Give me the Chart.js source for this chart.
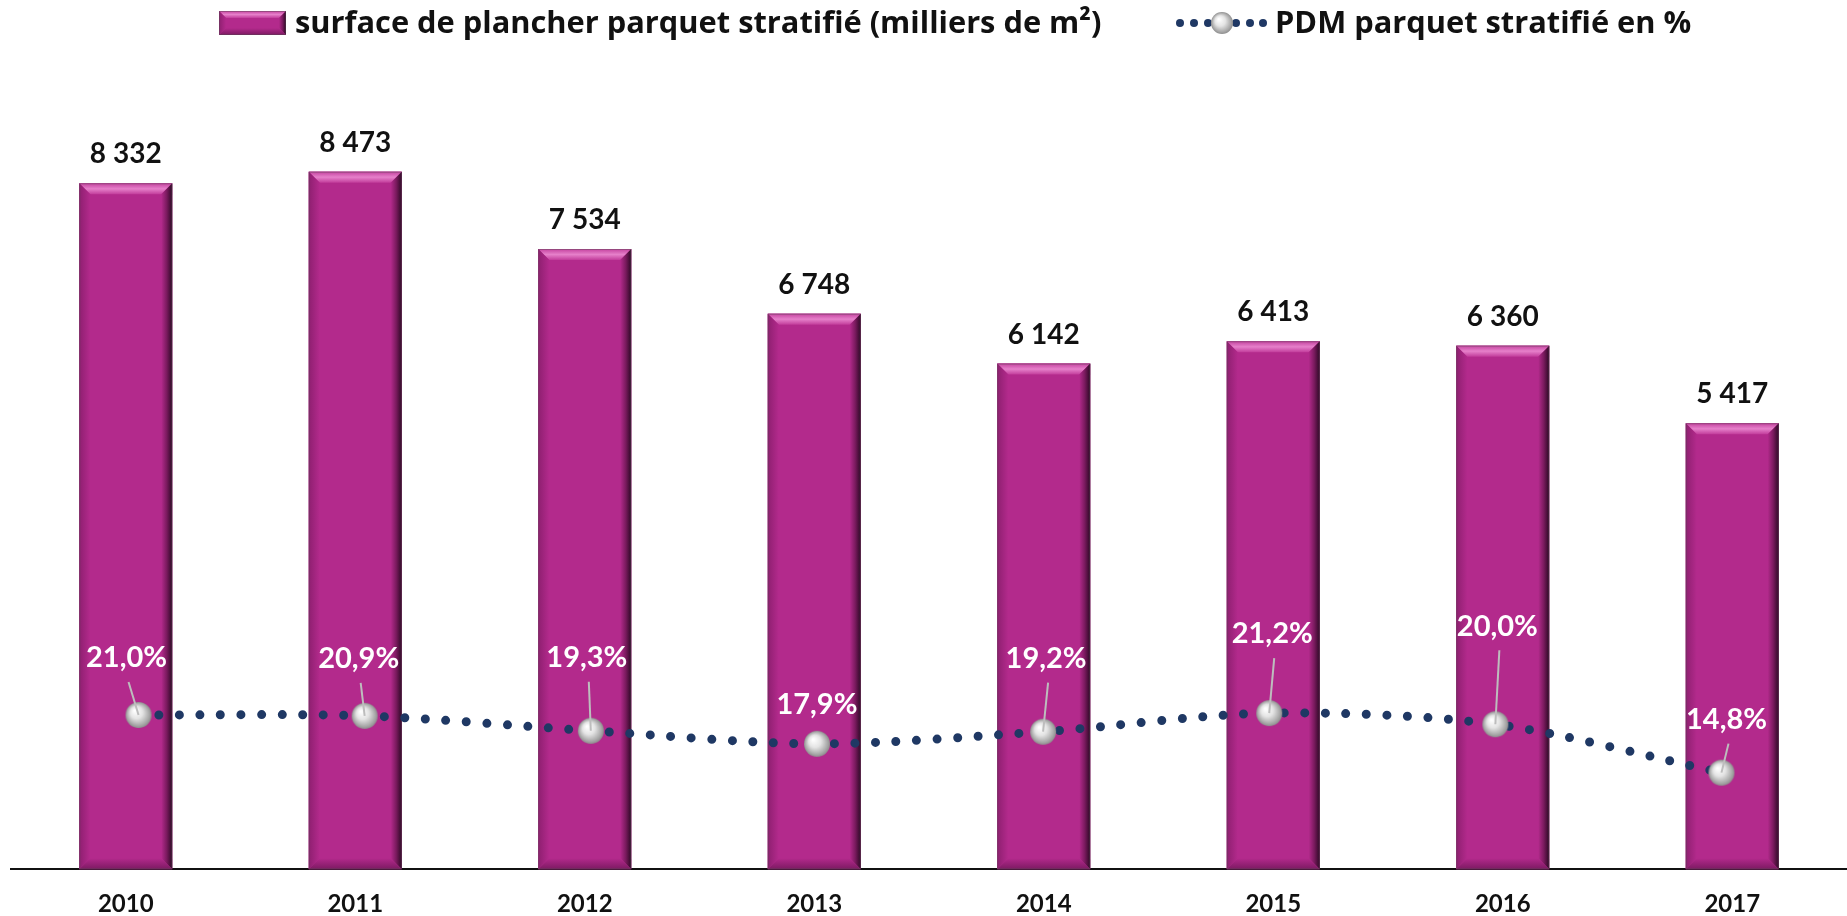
<!DOCTYPE html>
<html>
<head>
<meta charset="utf-8">
<script src="https://cdn.jsdelivr.net/npm/chart.js@4.4.0/dist/chart.umd.min.js"></script>
<style>
  html, body { margin: 0; padding: 0; background: #fff; }
  canvas { display: block; }
</style>
</head>
<body>
<canvas id="myChart" width="1847" height="916"></canvas>
<script>
var years = ['2010', '2011', '2012', '2013', '2014', '2015', '2016', '2017'];
var surface = [8332, 8473, 7534, 6748, 6142, 6413, 6360, 5417];
var pdm = [21.0, 20.9, 19.3, 17.9, 19.2, 21.2, 20.0, 14.8];

var barLabel = 'surface de plancher parquet stratifié (milliers de m²)';
var lineLabel = 'PDM parquet stratifié en %';

// placement of the % labels (Excel had them moved by hand)
var pctLift = [57, 57, 73, 39, 73, 79, 98, 53];
var pctShift = [-12, -6, -4, 0, 3, 3, 2, 5];

var magenta = '#b32a8c';
var navy = '#1f3864';
var FONT = 'Lato, "Open Sans", sans-serif';
var LEGEND_FONT = '"Open Sans", Lato, sans-serif';

function sphere(r) {
  var c = document.createElement('canvas');
  c.width = c.height = 2 * r + 2;
  var ctx = c.getContext('2d');
  var cx = r + 1;
  var g = ctx.createRadialGradient(cx - r * 0.3, cx - r * 0.35, r * 0.05, cx, cx, r);
  g.addColorStop(0, '#ffffff');
  g.addColorStop(0.45, '#e4e4e4');
  g.addColorStop(0.85, '#a8a8a8');
  g.addColorStop(1, '#8e8e8e');
  ctx.fillStyle = g;
  ctx.beginPath();
  ctx.arc(cx, cx, r, 0, Math.PI * 2);
  ctx.fill();
  return c;
}
var ball = sphere(13);
var smallBall = sphere(11);

function bevelBox(ctx, l, t, r, b, size) {
  var w = r - l;
  ctx.save();
  ctx.fillStyle = magenta;
  ctx.fillRect(l, t, w, b - t);
  // top
  var g = ctx.createLinearGradient(0, t, 0, t + size);
  g.addColorStop(0, '#c4429f');
  g.addColorStop(0.5, '#e680ca');
  g.addColorStop(1, '#c23c9b');
  ctx.fillStyle = g;
  ctx.beginPath();
  ctx.moveTo(l, t); ctx.lineTo(r, t); ctx.lineTo(r - size, t + size); ctx.lineTo(l + size, t + size);
  ctx.closePath(); ctx.fill();
  // right
  g = ctx.createLinearGradient(r - size, 0, r, 0);
  g.addColorStop(0, magenta);
  g.addColorStop(0.5, '#7a1a5e');
  g.addColorStop(1, '#2c0824');
  ctx.fillStyle = g;
  ctx.beginPath();
  ctx.moveTo(r, t); ctx.lineTo(r, b); ctx.lineTo(r - size, b - size); ctx.lineTo(r - size, t + size);
  ctx.closePath(); ctx.fill();
  // left
  g = ctx.createLinearGradient(l, 0, l + size, 0);
  g.addColorStop(0, '#8e1f70');
  g.addColorStop(1, magenta);
  ctx.fillStyle = g;
  ctx.beginPath();
  ctx.moveTo(l, t); ctx.lineTo(l + size, t + size); ctx.lineTo(l + size, b - size); ctx.lineTo(l, b);
  ctx.closePath(); ctx.fill();
  // bottom
  g = ctx.createLinearGradient(0, b - size, 0, b);
  g.addColorStop(0, magenta);
  g.addColorStop(1, '#7c1a62');
  ctx.fillStyle = g;
  ctx.beginPath();
  ctx.moveTo(l + size, b - size); ctx.lineTo(r - size, b - size); ctx.lineTo(r, b); ctx.lineTo(l, b);
  ctx.closePath(); ctx.fill();
  ctx.strokeStyle = 'rgba(90,70,85,0.45)';
  ctx.lineWidth = 1;
  ctx.strokeRect(l + 0.5, t + 0.5, w - 1, b - t - 1);
  ctx.restore();
}

var bevelPlugin = {
  id: 'bevel',
  afterDatasetDraw: function (chart, args) {
    if (args.meta.type !== 'bar') return;
    var ctx = chart.ctx;
    args.meta.data.forEach(function (bar) {
      var h = bar.width / 2;
      bevelBox(ctx, bar.x - h, bar.y, bar.x + h, bar.base, 11);
    });
  }
};

function frNumber(v) {
  return String(v).replace(/\B(?=(\d{3})+(?!\d))/g, ' ');
}

var labelPlugin = {
  id: 'labels',
  afterDatasetsDraw: function (chart) {
    var ctx = chart.ctx;
    ctx.save();
    ctx.textAlign = 'center';
    ctx.textBaseline = 'middle';
    ctx.font = 'bold 28px ' + FONT;
    ctx.fillStyle = '#111';
    chart.getDatasetMeta(0).data.forEach(function (bar, i) {
      ctx.fillText(frNumber(surface[i]), bar.x, bar.y - 29);
    });
    ctx.font = 'bold 29px ' + FONT;
    chart.getDatasetMeta(1).data.forEach(function (pt, i) {
      var lx = pt.x + pctShift[i];
      var ly = pt.y - pctLift[i];
      if (pctLift[i] > 45) {
        ctx.strokeStyle = '#bdbdbd';
        ctx.lineWidth = 2;
        ctx.beginPath();
        ctx.moveTo(lx + 2, ly + 24);
        ctx.lineTo(pt.x, pt.y);
        ctx.stroke();
      }
      ctx.fillStyle = '#fff';
      ctx.fillText(pdm[i].toFixed(1).replace('.', ',') + '%', lx, ly);
    });
    ctx.restore();
  }
};

var legendPlugin = {
  id: 'topLegend',
  afterDraw: function (chart) {
    var ctx = chart.ctx;
    ctx.save();
    var cy = 23;
    // size the legend text so both entries span what the original did
    ctx.font = 'bold 30px ' + LEGEND_FONT;
    var w = ctx.measureText(barLabel).width + ctx.measureText(lineLabel).width;
    var size = Math.round(30 * 1224 / w * 10) / 10;
    ctx.font = 'bold ' + size + 'px ' + LEGEND_FONT;
    bevelBox(ctx, 219, 11, 286, 35, 7);
    ctx.fillStyle = '#111';
    ctx.textBaseline = 'middle';
    ctx.fillText(barLabel, 295, cy + 1);
    ctx.fillStyle = navy;
    [1180, 1194, 1208, 1236, 1250, 1263].forEach(function (x) {
      ctx.beginPath();
      ctx.arc(x, cy, 4, 0, Math.PI * 2);
      ctx.fill();
    });
    ctx.drawImage(smallBall, 1222 - 12, cy - 12);
    ctx.fillStyle = '#111';
    ctx.fillText(lineLabel, 1275, cy + 1);
    ctx.restore();
  }
};

var data = {
  labels: years,
  datasets: [{
    type: 'bar',
    label: barLabel,
    data: surface,
    backgroundColor: magenta,
    barPercentage: 0.405,
    categoryPercentage: 1,
    grouped: false,
    order: 1
  }, {
    type: 'line',
    label: lineLabel,
    data: pdm.map(function (v, i) { return { x: i, y: v }; }),
    xAxisID: 'xl',
    yAxisID: 'y2',
    borderColor: navy,
    borderWidth: 9,
    borderDash: [0, 20.5],
    borderCapStyle: 'round',
    tension: 0.3,
    pointStyle: ball,
    pointRadius: 13,
    clip: false,
    order: 0
  }]
};

var config = {
  type: 'bar',
  data: data,
  options: {
    responsive: false,
    animation: false,
    devicePixelRatio: 1,
    layout: { autoPadding: false, padding: { left: 11, right: -6, top: 46, bottom: -24 } },
    plugins: {
      legend: { display: false },
      tooltip: { enabled: false }
    },
    scales: {
      x: {
        grid: { display: false, drawTicks: false },
        border: { display: true, color: '#111', width: 2 },
        ticks: { color: '#111', padding: 21, font: { family: FONT, size: 24, weight: 'bold' } }
      },
      xl: {
        type: 'linear',
        display: false,
        offset: false,
        grid: { offset: false },
        min: -0.564,
        max: 7.555
      },
      y: { display: false, min: 0, max: 10000 },
      y2: { display: false, min: 4.42, max: 92.9 }
    }
  },
  plugins: [bevelPlugin, labelPlugin, legendPlugin]
};

var mychart = new Chart(document.getElementById('myChart'), config);
</script>
</body>
</html>
